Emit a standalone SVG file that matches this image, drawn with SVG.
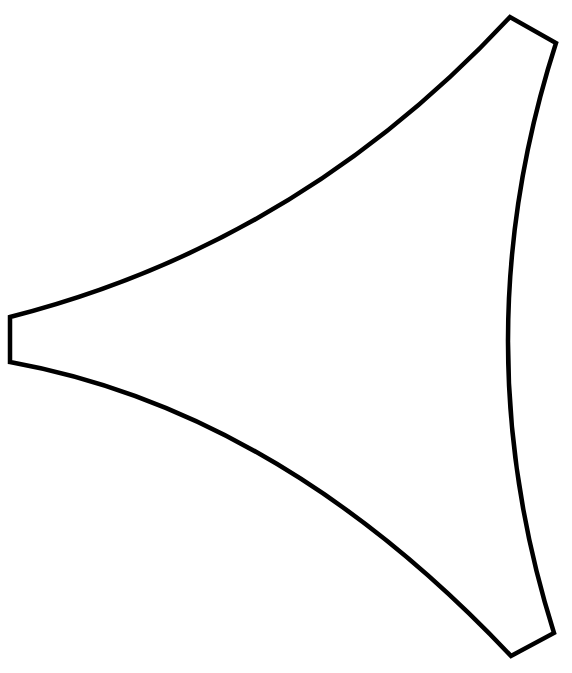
<svg xmlns="http://www.w3.org/2000/svg" width="572" height="673" viewBox="0 0 572 673">
<style>.sail{fill:#fff;stroke:#000;stroke-width:4.5;stroke-linejoin:miter}</style>
<rect width="572" height="673" fill="#fff"/>
<g id="sail">
<path class="sail" d="M10,317 Q300,243 510,17 L556,43 Q461,338 554,633 L511,656 Q280,411 10,362 Z"/>
</g>
</svg>
